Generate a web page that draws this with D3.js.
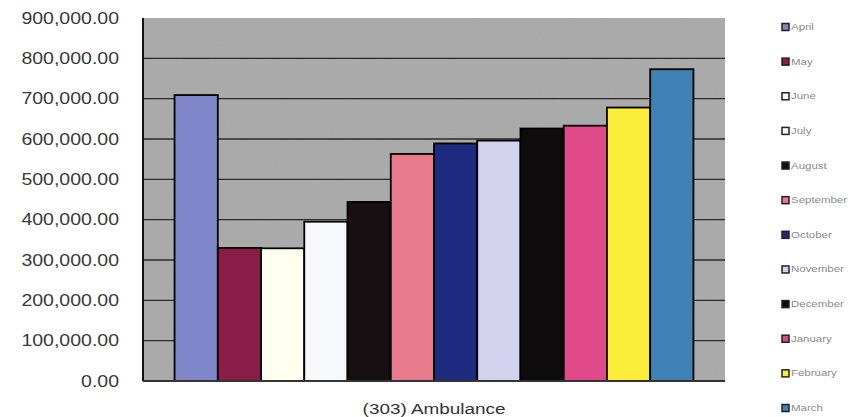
<!DOCTYPE html>
<html>
<head>
<meta charset="utf-8">
<script src="https://cdn.jsdelivr.net/npm/d3@7"></script>
<style>
  html, body { margin: 0; padding: 0; background: #fff; }
  svg { display: block; font-family: Arial, "Liberation Sans", sans-serif; }
</style>
</head>
<body>
<svg id="chart" width="852" height="417"></svg>
<script>
const months = ["April","May","June","July","August","September","October","November","December","January","February","March"];
const values = [709000, 330000, 329000, 395000, 444000, 563000, 589000, 596000, 626000, 633000, 678000, 773000];
const colors = ["#7f86c9","#8a1c48","#fffff0","#f6f8fc","#161012","#e87a8e","#1d2b7e","#d2d2ee","#0d0b0c","#e04a88","#fbee3a","#3f82b5"];
const yTicks = [0,100000,200000,300000,400000,500000,600000,700000,800000,900000];
const title = "(303) Ambulance";

const svg = d3.select("#chart");
const L = 143, R = 725, T = 18, B = 381;
const stretch = 1.22;

const x = d3.scaleBand().domain(months).range([L, R]).paddingInner(0).paddingOuter(0.73);
const y = d3.scaleLinear().domain([0, 900000]).range([B, T]);

// noise filter for scanned look
const defs = svg.append("defs");
const f = defs.append("filter").attr("id","noise").attr("x",0).attr("y",0).attr("width","100%").attr("height","100%");
f.append("feTurbulence").attr("type","fractalNoise").attr("baseFrequency",0.9).attr("numOctaves",2).attr("seed",3).attr("result","t");
f.append("feColorMatrix").attr("in","t").attr("type","matrix")
  .attr("values","0 0 0 0 0.5  0 0 0 0 0.5  0 0 0 0 0.5  0 0 0 0.25 0").attr("result","n");
f.append("feComposite").attr("in","n").attr("in2","SourceGraphic").attr("operator","in").attr("result","nc");
f.append("feMerge").selectAll("feMergeNode").data(["SourceGraphic","nc"]).enter().append("feMergeNode").attr("in",d=>d);

// plot background
svg.append("rect").attr("x", L).attr("y", T).attr("width", R - L).attr("height", B - T)
  .attr("fill", "#a7a7a7").attr("filter","url(#noise)");

// gridlines
svg.append("g").selectAll("line").data(yTicks.filter(d => d > 0 && d < 900000)).enter().append("line")
  .attr("x1", L).attr("x2", R).attr("y1", d => y(d)).attr("y2", d => y(d))
  .attr("stroke", "#2a2a2a").attr("stroke-width", 1.3);

// bars
svg.append("g").selectAll("rect").data(months).enter().append("rect")
  .attr("x", d => x(d)).attr("width", x.bandwidth())
  .attr("y", (d,i) => y(values[i])).attr("height", (d,i) => B - y(values[i]))
  .attr("fill", (d,i) => colors[i]).attr("stroke", "#000").attr("stroke-width", 1.8);

// axes lines
svg.append("line").attr("x1", L).attr("x2", L).attr("y1", T).attr("y2", B).attr("stroke","#111").attr("stroke-width",2);
svg.append("line").attr("x1", L).attr("x2", R).attr("y1", B).attr("y2", B).attr("stroke","#333").attr("stroke-width",2);

// y tick labels
const fmt = d3.format(",.2f");
svg.append("g").selectAll("text").data(yTicks).enter().append("text")
  .attr("transform", d => `translate(119,${y(d)}) scale(${stretch},1)`)
  .attr("text-anchor","end").attr("dy","0.36em")
  .attr("font-size", 16).attr("fill","#3a3a3a")
  .text(d => fmt(d));

// title
svg.append("text").attr("transform", `translate(434,408) scale(${stretch},1)`)
  .attr("text-anchor","middle").attr("dy","0.36em").attr("font-size",15.5).attr("fill","#333")
  .text(title);

// legend
const ly = d3.scalePoint().domain(months).range([27, 408]);
const lg = svg.append("g").selectAll("g").data(months).enter().append("g")
  .attr("transform", d => `translate(782,${ly(d)})`);
lg.append("rect").attr("x",0).attr("y",-3.5).attr("width",7).attr("height",7)
  .attr("fill",(d,i)=>colors[i]).attr("stroke","#222").attr("stroke-width",1.5);
lg.append("text").attr("transform",`translate(9,0) scale(1.35,1)`).attr("dy","0.35em")
  .attr("font-size",8.5).attr("fill","#8a8a8a").text(d => d);
</script>
</body>
</html>
